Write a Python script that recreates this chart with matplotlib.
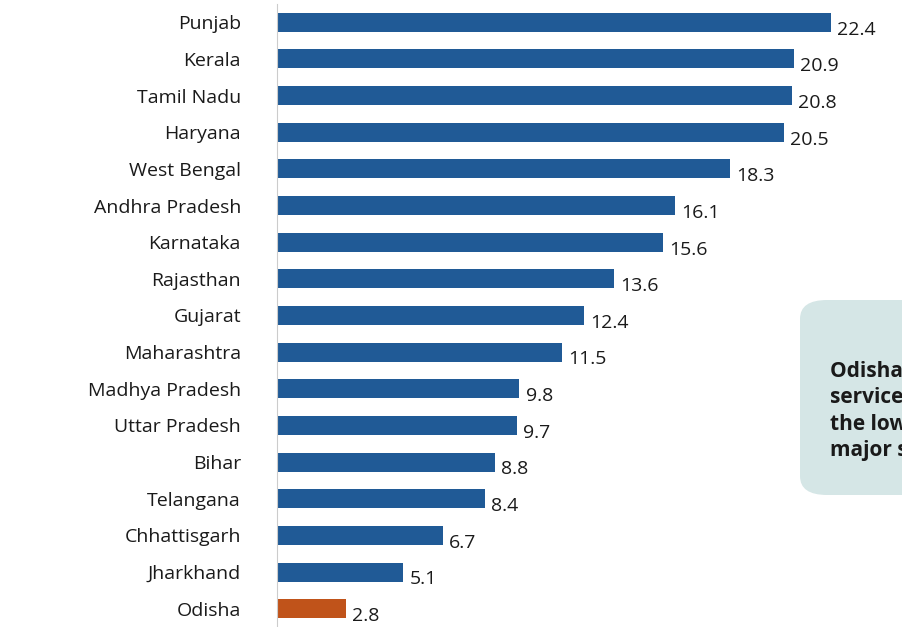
import matplotlib.pyplot as plt
from matplotlib.patches import FancyBboxPatch

states = ['Punjab', 'Kerala', 'Tamil Nadu', 'Haryana', 'West Bengal', 'Andhra Pradesh',
          'Karnataka', 'Rajasthan', 'Gujarat', 'Maharashtra', 'Madhya Pradesh',
          'Uttar Pradesh', 'Bihar', 'Telangana', 'Chhattisgarh', 'Jharkhand', 'Odisha']
values = [22.4, 20.9, 20.8, 20.5, 18.3, 16.1, 15.6, 13.6, 12.4, 11.5, 9.8, 9.7,
          8.8, 8.4, 6.7, 5.1, 2.8]
highlight = 'Odisha'
note = "Odisha's share of\nservices is\nthe lowest among\nmajor states"

plt.rcParams['font.family'] = ['Open Sans', 'DejaVu Sans']

W, H = 903, 627
fig = plt.figure(figsize=(W / 100, H / 100), dpi=100)
ax = fig.add_axes([277 / W, 0, 1 - 277 / W, 1 - 4 / H])

colors = ['#c0531a' if s == highlight else '#205a96' for s in states]
ypos = list(range(len(states)))[::-1]
ax.barh(ypos, values, height=0.52, color=colors)
for y, v in zip(ypos, values):
    ax.text(v + 0.25, y - 0.2, f'{v}', va='center', ha='left', fontsize=14, color='#1a1a1a')

ax.set_xlim(0, 25.3)
ax.set_ylim(-0.5, len(states) - 0.5)
ax.set_yticks(ypos)
ax.set_yticklabels(states, fontsize=14, color='#1a1a1a')
ax.tick_params(axis='y', length=0, pad=26)
ax.set_xticks([])
for s in ['top', 'right', 'bottom']:
    ax.spines[s].set_visible(False)
ax.spines['left'].set_color('#cccccc')
ax.spines['left'].set_linewidth(0.8)

box = FancyBboxPatch((800 / W, 132 / H), 200 / W, 195 / H,
                     boxstyle='round,pad=0,rounding_size=0.03',
                     transform=fig.transFigure, facecolor='#d5e6e6', edgecolor='none')
fig.patches.append(box)
fig.text(830 / W, (H - 411) / H, note, fontsize=15, fontweight='bold', color='#1a1a1a',
         va='center', ha='left', linespacing=1.35)

fig.savefig('out.png', dpi=100)
